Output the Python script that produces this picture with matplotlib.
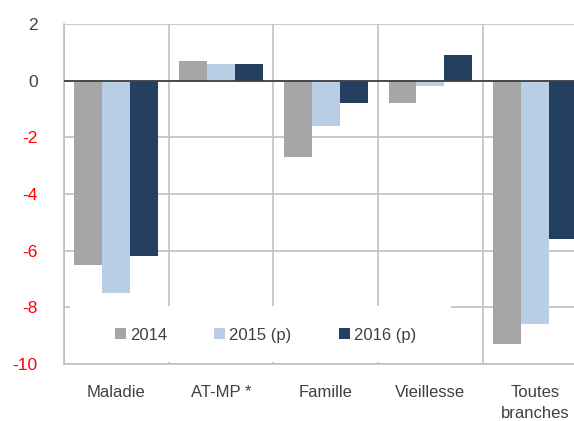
import matplotlib
matplotlib.use("Agg")
import matplotlib.pyplot as plt
import numpy as np
from matplotlib.patches import Rectangle

plt.rcParams["font.family"] = ["Liberation Sans", "DejaVu Sans"]
plt.rcParams["axes.unicode_minus"] = False

# data
categories = ["Maladie", "AT-MP *", "Famille", "Vieillesse", "Toutes\nbranches"]
years = ["2014", "2015 (p)", "2016 (p)"]
v2014 = [-6.5, 0.7, -2.7, -0.8, -9.3]
v2015 = [-7.5, 0.6, -1.6, -0.2, -8.6]
v2016 = [-6.2, 0.6, -0.8, 0.9, -5.6]
yticks = [2, 0, -2, -4, -6, -8, -10]

COLORS = ["#a6a6a6", "#b9cde5", "#243f60"]
GRID = "#c0c0c0"
TEXT = "#404040"

fig = plt.figure(figsize=(5.74, 4.21), dpi=100)
# right side of the last category is cut by the figure edge, as in the original
ax = fig.add_axes([64 / 574, 1 - 364 / 421, 523.5 / 574, 340 / 421])

xs = np.arange(len(categories))
w = 0.8 / 3
for i, (vals, lab) in enumerate(zip([v2014, v2015, v2016], years)):
    ax.bar(xs + (i - 1) * w, vals, width=w, color=COLORS[i], label=lab, zorder=3)

ax.set_xlim(-0.5, len(categories) - 0.5)
ax.set_ylim(-10, 2)
ax.set_yticks(yticks)
ax.set_xticks(xs)
ax.set_xticklabels(categories, fontsize=12, color=TEXT, linespacing=1.55)
ax.set_xticks(np.arange(len(categories) + 1) - 0.5, minor=True)
ax.tick_params(axis="x", which="both", length=0, pad=15)
ax.tick_params(axis="y", length=0, pad=19, labelsize=12.5)
for t, v in zip(ax.get_yticklabels(), yticks):
    t.set_color("red" if v < 0 else TEXT)

ax.grid(axis="y", which="major", color=GRID, lw=1.2, zorder=1)
ax.grid(axis="x", which="minor", color=GRID, lw=1.2, zorder=1)
ax.axhline(0, color=TEXT, lw=1.3, zorder=4)
for s in ["top", "right"]:
    ax.spines[s].set_visible(False)
for s in ["left", "bottom"]:
    ax.spines[s].set_color(GRID)
    ax.spines[s].set_linewidth(1.2)
ax.set_axisbelow(True)

# white panel behind the legend, hiding the grid
ax.add_patch(Rectangle((0.0115, 0.006), 0.728, 0.165, transform=ax.transAxes,
                       facecolor="white", edgecolor="none", zorder=2))
ax.legend(loc="center", bbox_to_anchor=(0.385, 0.085), ncol=3, frameon=False,
          fontsize=12, handlelength=0.65, handleheight=0.65, handletextpad=0.25,
          columnspacing=2.85, labelcolor=TEXT)

fig.savefig("out.png", dpi=100)
